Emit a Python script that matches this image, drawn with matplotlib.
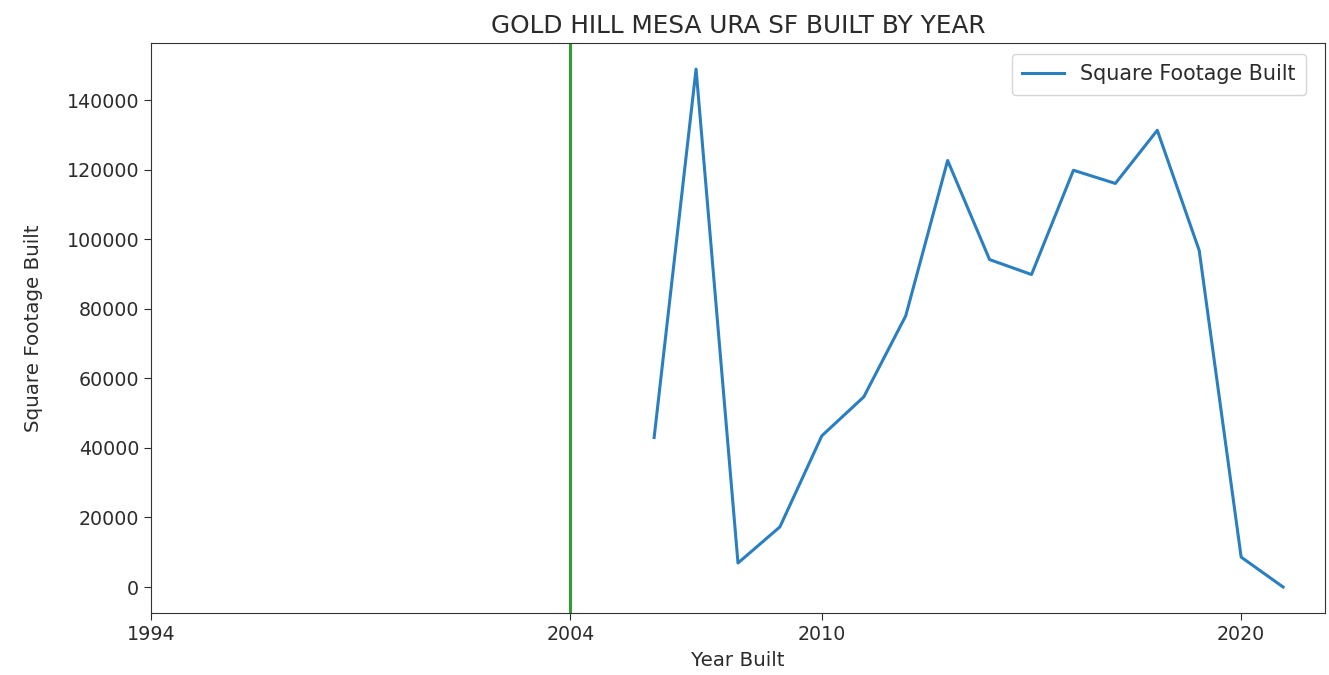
import matplotlib
matplotlib.use("Agg")
import matplotlib.pyplot as plt

# year built and square footage built per year
years = [2006, 2007, 2008, 2009, 2010, 2011, 2012, 2013, 2014, 2015,
         2016, 2017, 2018, 2019, 2020, 2021]
sq_ft = [43000, 149000, 6900, 17300, 43500, 54700, 78000, 122700, 94200, 89900,
         119900, 116100, 131400, 96800, 8600, 0]

ura_year = 2004
tick_years = [1994, 2004, 2010, 2020]

txt = '#2b2b2b'
plt.rcParams['text.color'] = txt
plt.rcParams['axes.labelcolor'] = txt
plt.rcParams['xtick.color'] = txt
plt.rcParams['ytick.color'] = txt
plt.rcParams['axes.edgecolor'] = '#333333'

fig = plt.figure(figsize=(13.29, 6.75), dpi=100)
ax = fig.add_axes([0.1136, 0.092, 0.8834, 0.844])

ax.plot(years, sq_ft, color='#2a7fc0', linewidth=2.2, label='Square Footage Built')
ax.axvline(ura_year, color='#2e9e2e', linewidth=2.2)

ax.set_xlim(1994, 2022)
ax.set_xticks(tick_years)
ax.set_xticklabels([str(y) for y in tick_years])
ax.tick_params(labelsize=13.7, length=5)

ax.set_title('GOLD HILL MESA URA SF BUILT BY YEAR', fontsize=17.8, pad=7)
ax.set_xlabel('Year Built', fontsize=14.3, labelpad=5)
ax.set_ylabel('Square Footage Built', fontsize=14.3, labelpad=17)
ax.legend(loc='upper right', bbox_to_anchor=(0.984, 0.981), borderaxespad=0,
          fontsize=14.9, handlelength=2.0, borderpad=0.5)

fig.savefig('out.png', dpi=100)
